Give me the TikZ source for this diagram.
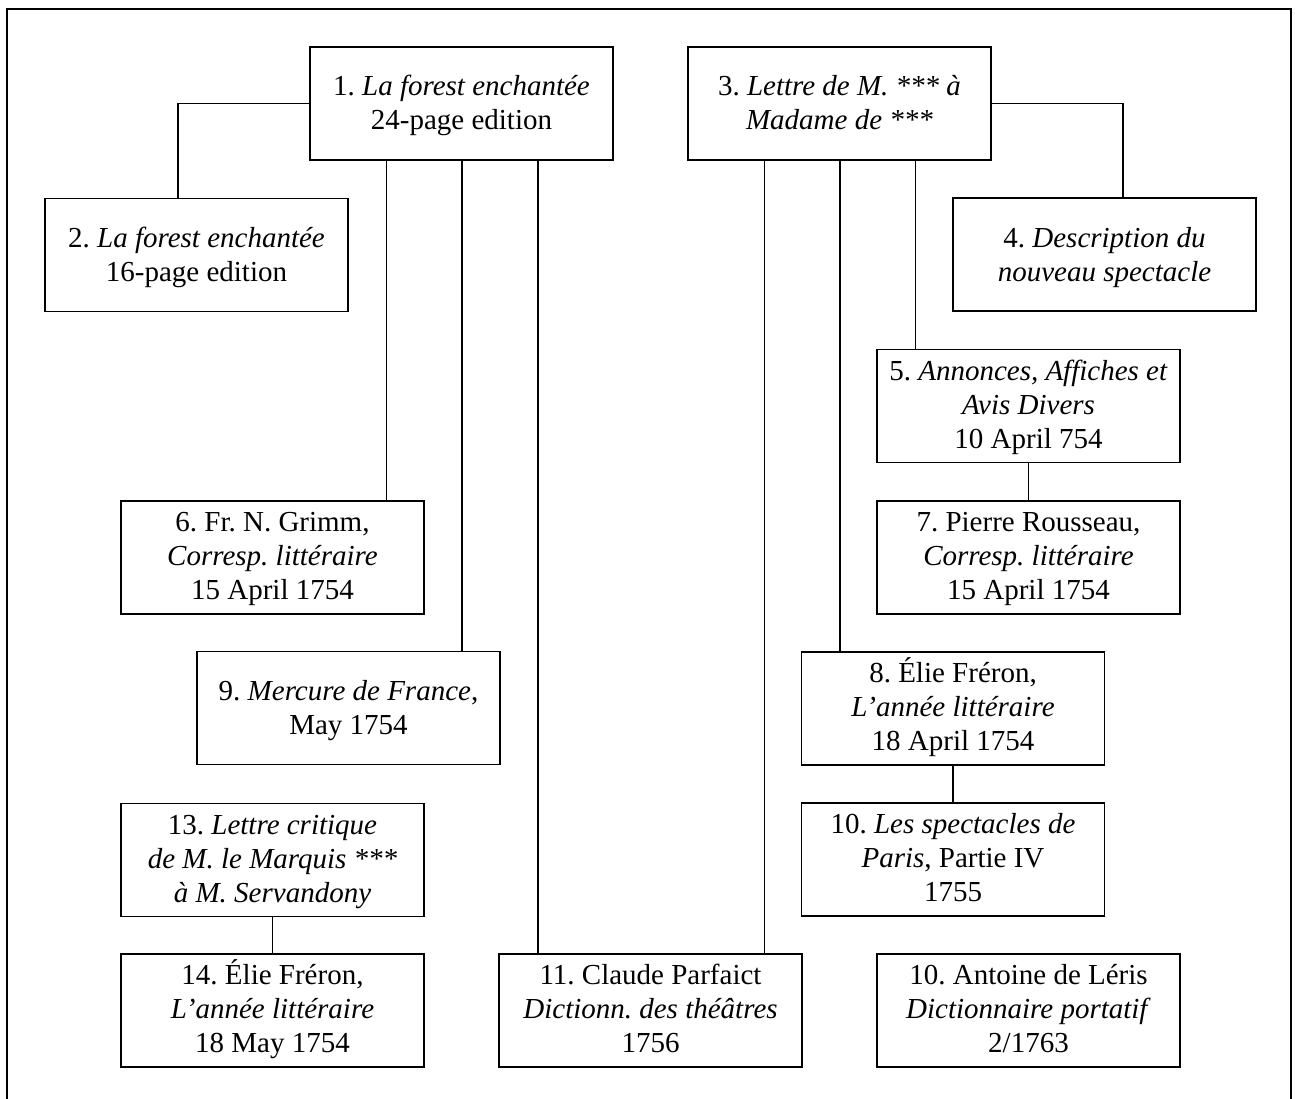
\documentclass[tikz,border=0pt]{standalone}
\usepackage{fontspec}
\setmainfont{Liberation Serif}
\frenchspacing
\begin{document}
\begin{tikzpicture}[x=1pt,y=-1pt,
  src/.style={draw, line width=1.4pt, minimum width=303pt, minimum height=113pt,
    inner sep=0pt, align=center, font=\fontsize{29}{34}\selectfont,
    text depth=7pt, text height=91pt},
  two/.style={src, text height=60pt},
  link/.style={line width=1.2pt}]
\useasboundingbox (0,0) rectangle (1295,1099);
\draw[line width=1.6pt] (7,1099) -- (7,9) -- (1291,9) -- (1291,1099);

\node[two] (b1) at (461.5,103.5) {1. \textit{La forest enchantée}\\24-page edition};
\node[two] (b2) at (196.5,255) {2. \textit{La forest enchantée}\\16-page edition};
\node[two] (b3) at (839.5,103.5) {3. \textit{Lettre de M. *** à}\\\textit{Madame de ***}};
\node[two] (b4) at (1104.5,254.5) {4. \textit{Description du}\\\textit{nouveau spectacle}};
\node[src] (b5) at (1028.5,406) {5. \textit{Annonces, Affiches et}\\\textit{Avis Divers}\\10 April 754};
\node[src] (b7) at (1028.5,557.5) {7. Pierre Rousseau,\\\textit{Corresp. littéraire}\\15 April 1754};
\node[src] (b6) at (272.5,557.5) {6. Fr. N. Grimm,\\\textit{Corresp. littéraire}\\15 April 1754};
\node[two] (b9) at (348.5,708) {9. \textit{Mercure de France},\\May 1754};
\node[src] (b8) at (953,708.5) {8. Élie Fréron,\\\textit{L’année littéraire}\\18 April 1754};
\node[src] (b13) at (272.5,860) {13. \textit{Lettre critique}\\\textit{de M. le Marquis ***}\\\textit{à M. Servandony}};
\node[src] (b10a) at (953,859.5) {10. \textit{Les spectacles de}\\\textit{Paris}, Partie IV\\1755};
\node[src] (b14) at (272.5,1010.5) {14. Élie Fréron,\\\textit{L’année littéraire}\\18 May 1754};
\node[src] (b11) at (650.5,1010.5) {11. Claude Parfaict\\\textit{Dictionn. des théâtres}\\1756};
\node[src] (b10b) at (1028.5,1010.5) {10. Antoine de Léris\\\textit{Dictionnaire portatif}\\2/1763};

\draw[link] (b1.west) -| ([xshift=-18.5pt]b2.north);
\draw[link] (b3.east) -| ([xshift=18.5pt]b4.north);
\draw[link] ([xshift=-75pt]b1.south) -- ([xshift=-75pt]b1.south |- b6.north);
\draw[link] ([xshift=0.5pt]b1.south) -- ([xshift=0.5pt]b1.south |- b9.north);
\draw[link] ([xshift=76.5pt]b1.south) -- ([xshift=76.5pt]b1.south |- b11.north);
\draw[link] ([xshift=-75pt]b3.south) -- ([xshift=-75pt]b3.south |- b11.north);
\draw[link] ([xshift=0.5pt]b3.south) -- ([xshift=0.5pt]b3.south |- b8.north);
\draw[link] ([xshift=76pt]b3.south) -- ([xshift=76pt]b3.south |- b5.north);
\draw[link] (b5) -- (b7);
\draw[link] (b8) -- (b10a);
\draw[link] (b13) -- (b14);
\end{tikzpicture}
\end{document}
